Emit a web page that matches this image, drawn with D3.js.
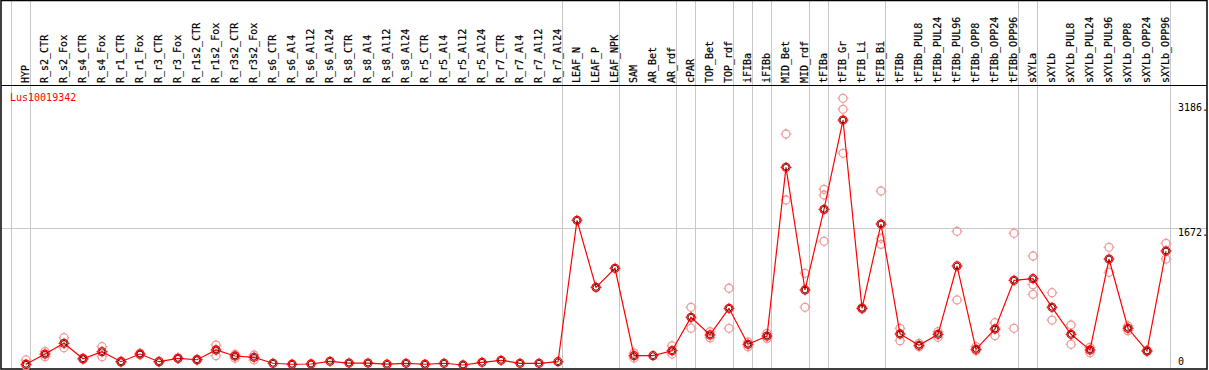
<!DOCTYPE html>
<html>
<head>
<meta charset="utf-8">
<script src="https://cdn.jsdelivr.net/npm/d3@7"></script>
<style>
  body { margin: 0; background: #fff; }
  svg { display: block; }
  text { font-family: "DejaVu Sans Mono", monospace; font-size: 10px; }
  text.lbl { stroke: #000; stroke-width: 0.2px; }
</style>
</head>
<body>
<div id="chart"></div>
<script>

var samples = [
  'HYP', 'R_s2_CTR', 'R_s2_Fox', 'R_s4_CTR', 'R_s4_Fox', 'R_r1_CTR',
  'R_r1_Fox', 'R_r3_CTR', 'R_r3_Fox', 'R_r1s2_CTR', 'R_r1s2_Fox',
  'R_r3s2_CTR', 'R_r3s2_Fox', 'R_s6_CTR', 'R_s6_Al4', 'R_s6_Al12',
  'R_s6_Al24', 'R_s8_CTR', 'R_s8_Al4', 'R_s8_Al12', 'R_s8_Al24',
  'R_r5_CTR', 'R_r5_Al4', 'R_r5_Al12', 'R_r5_Al24', 'R_r7_CTR', 'R_r7_Al4',
  'R_r7_Al12', 'R_r7_Al24', 'LEAF_N', 'LEAF_P', 'LEAF_NPK', 'SAM', 'AR_Bet',
  'AR_rdf', 'cPAR', 'TOP_Bet', 'TOP_rdf', 'iFIBa', 'iFIBb', 'MID_Bet',
  'MID_rdf', 'tFIBa', 'tFIB_Gr', 'tFIB_Li', 'tFIB_Bi', 'tFIBb',
  'tFIBb_PUL8', 'tFIBb_PUL24', 'tFIBb_PUL96', 'tFIBb_OPP8', 'tFIBb_OPP24',
  'tFIBb_OPP96', 'sXYLa', 'sXYLb', 'sXYLb_PUL8', 'sXYLb_PUL24',
  'sXYLb_PUL96', 'sXYLb_OPP8', 'sXYLb_OPP24', 'sXYLb_OPP96'
];

// Mean expression per sample.
var means = [
  21, 145, 275, 88, 173, 52, 145, 52, 93, 76, 194, 121, 105, 33, 21, 24,
  57, 36, 36, 22, 33, 21, 33, 12, 45, 69, 33, 33, 52, 1765, 953, 1184,
  125, 125, 185, 590, 376, 699, 263, 363, 2407, 921, 1898, 2980, 699, 1720,
  388, 251, 384, 1212, 202, 448, 1038, 1058, 711, 384, 194, 1296, 457, 182,
  1393
];

// Individual replicates (pale circles).
var replicates = [
  [73, 5], [113, 175], [343, 222], [80, 96], [234, 113], [45, 60],
  [135, 155], [50, 55], [90, 95], [72, 80], [254, 125], [93, 140],
  [133, 73], [], [], [], [], [], [], [], [], [], [], [], [], [], [], [],
  [], [], [], [], [97, 157], [], [245, 145], [711, 458], [415, 342],
  [942, 457], [233, 290], [396, 335], [2811, 2011], [1123, 711],
  [2141, 2072, 1511], [3243, 3110, 2577], [705, 690], [2120, 1547, 1474],
  [457, 307], [275, 234], [416, 348], [1632, 800], [234, 185], [525, 367],
  [1608, 457], [1333, 985, 869], [888, 557], [497, 263], [226, 161],
  [1438, 1135], [485, 428], [190, 175], [1486, 1296]
];

// Last sample index of each group, a separator follows it.
var groupEnds = [-1, 0, 28, 31, 34, 35, 37, 38, 39, 41, 42, 45, 52, 53, 60];

var yTicks = [0, 1672, 3186];
var geneId = 'Lus10019342';

var W = 1209, H = 370;
var headerH = 85, bottom = 369, right = 1207;

var x = d3.scaleLinear().domain([0, samples.length - 1]).range([26, 1166]);
var y = d3.scaleLinear().domain([0, 1672]).range([366, 228]);

var svg = d3.select('#chart').append('svg')
  .attr('width', W).attr('height', H);

// Group separators, full height.
svg.selectAll('line.sep').data(groupEnds).enter().append('line')
  .attr('class', 'sep')
  .attr('x1', function(d) { return Math.round(x(d) + 4) + 0.5; })
  .attr('x2', function(d) { return Math.round(x(d) + 4) + 0.5; })
  .attr('y1', 0).attr('y2', bottom)
  .attr('stroke', '#c8c8c8').attr('stroke-width', 1);

// Horizontal grid for the middle tick.
svg.append('line')
  .attr('x1', 1).attr('x2', right)
  .attr('y1', Math.round(y(yTicks[1])) + 0.5)
  .attr('y2', Math.round(y(yTicks[1])) + 0.5)
  .attr('stroke', '#c8c8c8');

// Frame.
svg.append('rect')
  .attr('x', 1).attr('y', 0.5).attr('width', right - 1).attr('height', bottom - 0.5)
  .attr('fill', 'none').attr('stroke', '#000').attr('stroke-width', 1.5);
svg.append('line')
  .attr('x1', 1).attr('x2', right)
  .attr('y1', headerH + 0.5).attr('y2', headerH + 0.5)
  .attr('stroke', '#000');

// Sample labels, rotated.
svg.selectAll('text.lbl').data(samples).enter().append('text')
  .attr('class', 'lbl')
  .attr('transform', function(d, i) {
    return 'translate(' + (x(i) + 2.6) + ',83) rotate(-90)';
  })
  .text(function(d) { return d; });

svg.append('text')
  .attr('x', 10).attr('y', 100.5)
  .attr('fill', '#f00')
  .text(geneId);

// Value labels on the right.
svg.selectAll('text.tick').data(yTicks).enter().append('text')
  .attr('class', 'tick')
  .attr('x', 1178)
  .attr('y', function(d) { return Math.min(y(d) + 8, 364.5); })
  .text(function(d) { return d === 0 ? '0' : d + '.'; });

/**
 * Circle with small ticks at four sides.
 */
function marker(g, cx, cy, color) {
  g.append('circle')
    .attr('cx', cx).attr('cy', cy).attr('r', 4)
    .attr('fill', 'none').attr('stroke', color).attr('stroke-width', 1.3);
  g.append('path')
    .attr('d', 'M' + cx + ',' + (cy - 5.5) + 'v1.5M' + cx + ',' + (cy + 4) + 'v1.5' +
      'M' + (cx - 5.5) + ',' + cy + 'h1.5M' + (cx + 4) + ',' + cy + 'h1.5')
    .attr('stroke', color).attr('stroke-width', 1);
}

// Replicates.
var reps = svg.append('g');
replicates.forEach(function(vals, i) {
  vals.forEach(function(v) { marker(reps, x(i), y(v), '#f09a9a'); });
});

// Mean line.
var line = d3.line()
  .x(function(d, i) { return x(i); })
  .y(function(d) { return y(d); });

svg.append('path').datum(means)
  .attr('d', line)
  .attr('fill', 'none').attr('stroke', '#f00').attr('stroke-width', 1.2);

var pts = svg.append('g');
means.forEach(function(v, i) {
  marker(pts, x(i), y(v), '#f00');
  pts.append('circle')
    .attr('cx', x(i)).attr('cy', y(v)).attr('r', 2.9)
    .attr('fill', 'none').attr('stroke', '#400').attr('stroke-width', 0.9);
});

</script>
</body>
</html>
